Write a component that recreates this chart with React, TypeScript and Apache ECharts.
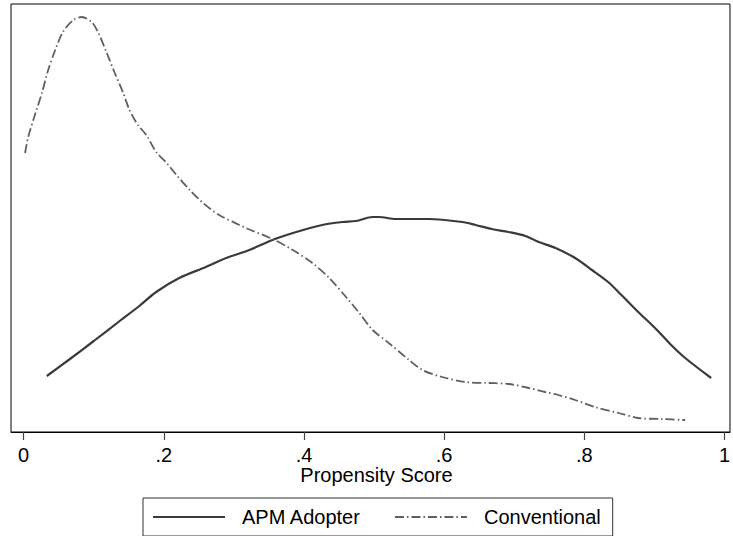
import React, { useEffect, useRef } from "react";
import * as echarts from "echarts";

const tickValues = [0, 0.2, 0.4, 0.6, 0.8, 1];
const tickLabels = ["0", ".2", ".4", ".6", ".8", "1"];

const apmX = [0.033, 0.066, 0.1, 0.137, 0.165, 0.189, 0.222, 0.26, 0.289, 0.322, 0.355, 0.389, 0.426, 0.455, 0.474, 0.498, 0.507, 0.531, 0.578, 0.626, 0.645, 0.668, 0.692, 0.716, 0.735, 0.759, 0.787, 0.811, 0.834, 0.853, 0.877, 0.901, 0.924, 0.944, 0.981];
const apmY = [0.56, 0.73, 0.91, 1.11, 1.26, 1.4, 1.54, 1.65, 1.74, 1.82, 1.92, 2.0, 2.07, 2.1, 2.11, 2.15, 2.15, 2.13, 2.13, 2.1, 2.07, 2.03, 2.0, 1.96, 1.9, 1.84, 1.74, 1.62, 1.5, 1.37, 1.2, 1.04, 0.87, 0.74, 0.54];

const convX = [0.002, 0.0065, 0.016, 0.026, 0.035, 0.045, 0.056, 0.071, 0.083, 0.097, 0.106, 0.118, 0.13, 0.142, 0.151, 0.163, 0.175, 0.189, 0.204, 0.218, 0.237, 0.256, 0.279, 0.308, 0.317, 0.355, 0.384, 0.412, 0.436, 0.46, 0.479, 0.498, 0.521, 0.55, 0.569, 0.597, 0.63, 0.664, 0.692, 0.721, 0.744, 0.763, 0.787, 0.815, 0.849, 0.877, 0.91, 0.944];
const convY = [2.79, 2.95, 3.17, 3.39, 3.62, 3.82, 4.0, 4.12, 4.15, 4.1, 4.0, 3.8, 3.59, 3.39, 3.22, 3.07, 2.97, 2.8, 2.69, 2.57, 2.42, 2.29, 2.17, 2.07, 2.04, 1.93, 1.82, 1.69, 1.54, 1.35, 1.19, 1.02, 0.89, 0.72, 0.62, 0.55, 0.5, 0.49, 0.48, 0.44, 0.4, 0.37, 0.32, 0.25, 0.19, 0.14, 0.13, 0.12];

const FONT = "Liberation Sans, Arial, Helvetica, sans-serif";

// legend icon shapes (72 x 2 box)
const solidIcon = "path://M0,0h72v2h-72z";
const dashDotIcon =
  "path://M0,0h9v2h-9z M12,0h1.5v2h-1.5z M16.5,0h9v2h-9z M28.5,0h1.5v2h-1.5z M33,0h9v2h-9z M45,0h1.5v2h-1.5z M49.5,0h9v2h-9z M61.5,0h1.5v2h-1.5z M66,0h6v2h-6z";

export default function App() {
  const ref = useRef<HTMLDivElement>(null);
  useEffect(() => {
    if (!ref.current) return;
    const chart = echarts.init(ref.current, null, { renderer: "svg" });
    chart.setOption({
      animation: false,
      backgroundColor: "#ffffff",
      grid: {
        left: 11,
        top: 4,
        width: 721,
        height: 428,
        show: true,
        borderColor: "#000000",
        borderWidth: 1,
        backgroundColor: "transparent",
      },
      xAxis: {
        type: "value",
        min: -0.0181,
        max: 1.0079,
        name: "Propensity Score",
        nameLocation: "middle",
        nameGap: 33,
        nameMoveOverlap: false,
        nameTextStyle: { fontFamily: FONT, fontSize: 20, color: "#000", padding: [0, 0, 0, 12] },
        axisLine: { show: true, onZero: false, lineStyle: { color: "#000", width: 1 } },
        axisTick: {
          show: true,
          inside: false,
          length: 8,
          customValues: tickValues,
          lineStyle: { color: "#444", width: 1.2 },
        },
        axisLabel: {
          customValues: tickValues,
          margin: 13,
          fontFamily: FONT,
          fontSize: 20,
          color: "#000",
          formatter: (v: number) => {
            const i = tickValues.findIndex((t) => Math.abs(t - v) < 1e-6);
            return i >= 0 ? tickLabels[i] : "";
          },
        },
        splitLine: { show: false },
      },
      yAxis: {
        type: "value",
        min: 0,
        max: 4.28,
        show: false,
        splitLine: { show: false },
      },
      legend: {
        left: 143,
        top: 498,
        orient: "horizontal",
        borderColor: "#333",
        borderWidth: 1,
        padding: [9, 12, 9, 10],
        itemGap: 34,
        itemWidth: 72,
        itemHeight: 2,
        symbolKeepAspect: false,
        textStyle: { fontFamily: FONT, fontSize: 20, color: "#000", padding: [0, 0, 0, 12] },
        data: [
          { name: "APM Adopter", icon: solidIcon, itemStyle: { color: "#3a3a3a" } },
          { name: "Conventional", icon: dashDotIcon, itemStyle: { color: "#606060" } },
        ],
      },
      series: [
        {
          name: "APM Adopter",
          type: "line",
          data: apmX.map((x, i) => [x, apmY[i]]),
          showSymbol: false,
          symbol: "none",
          smooth: 0.3,
          lineStyle: { color: "#3a3a3a", width: 2.2, type: "solid" },
          itemStyle: { color: "#3a3a3a" },
        },
        {
          name: "Conventional",
          type: "line",
          data: convX.map((x, i) => [x, convY[i]]),
          showSymbol: false,
          symbol: "none",
          smooth: 0.3,
          lineStyle: { color: "#606060", width: 1.8, type: [9, 3, 1.5, 3] },
          itemStyle: { color: "#606060" },
        },
      ],
    });
    return () => chart.dispose();
  }, []);
  return (
    <div
      ref={ref}
      style={{ position: "fixed", left: 0, top: 0, width: 733, height: 536, background: "#fff" }}
    />
  );
}
